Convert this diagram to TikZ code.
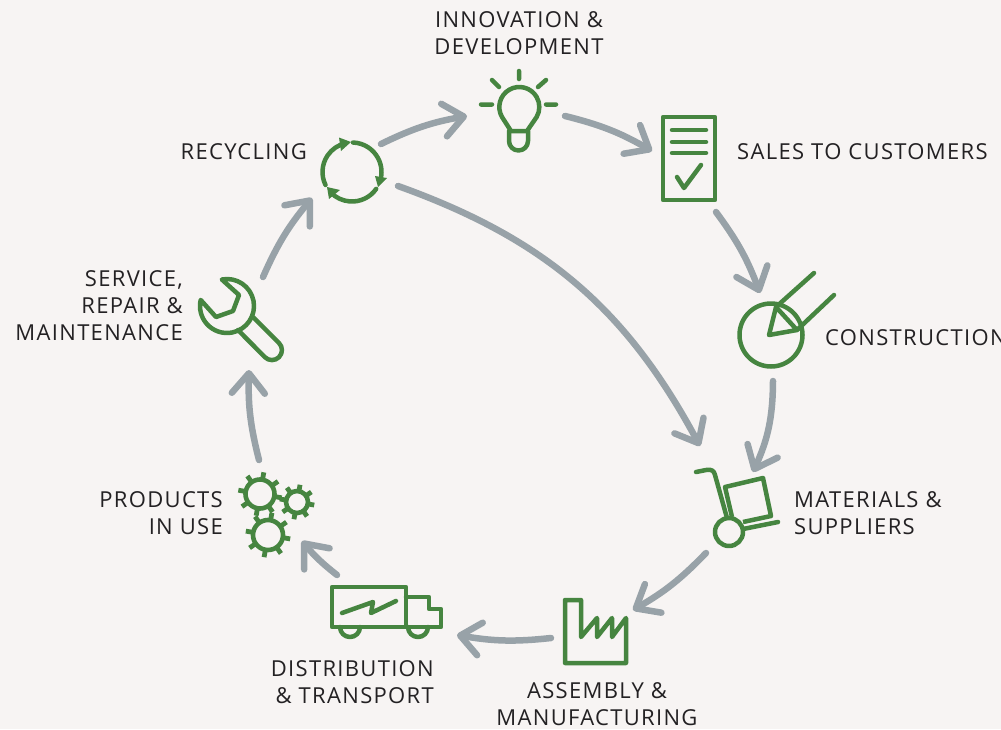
\documentclass[tikz,border=0pt]{standalone}
\usepackage{fontspec}
\setmainfont{Open Sans}[LetterSpace=6]
\usetikzlibrary{arrows.meta}
\definecolor{bgc}{HTML}{F7F4F3}
\definecolor{grn}{HTML}{468540}
\definecolor{gry}{HTML}{98A2A8}
\definecolor{txt}{HTML}{232123}
\tikzset{
 lab/.style={font=\fontsize{22}{27}\selectfont,text=txt,inner sep=0pt,align=#1},
 lab/.default=center,
 icon/.style={draw=grn,line width=4.5pt,line cap=round,line join=round},
 conn/.style={draw=gry,line width=6.5pt,line cap=round,-{Straight Barb[length=20pt,width=33pt,line width=6.5pt,line cap=round,round]}},
}
\newcommand{\gearicon}[4]{% x y r tooth
 \draw[icon,line width=4.6pt] (#1,#2) circle[radius=#3];
 \foreach \a in {0,45,...,315}{\draw[icon,line cap=butt,line width=4.8pt] ([shift={(\a+10:#3)}]#1,#2) -- ([shift={(\a+10:#4)}]#1,#2);}
}
\begin{document}
\begin{tikzpicture}[x=1pt,y=-1pt]
\useasboundingbox (0,0) rectangle (1001,729);
\clip (0,0) rectangle (1001,729);
\fill[bgc] (0,0) rectangle (1001,729);
% connector ends
\coordinate (a1) at (381,144); \coordinate (a2) at (467,116);
\coordinate (b1) at (565,116); \coordinate (b2) at (652,151);
\coordinate (c1) at (716,212); \coordinate (c2) at (760,293);
\coordinate (d1) at (773,381); \coordinate (d2) at (753,472);
\coordinate (e1) at (706,553); \coordinate (e2) at (633,610);
\coordinate (f1) at (551,638); \coordinate (f2) at (457,635);
\coordinate (g1) at (337,575); \coordinate (g2) at (302,541);
\coordinate (h1) at (259,460); \coordinate (h2) at (249,370);
\coordinate (i1) at (263,277); \coordinate (i2) at (312,198);
\coordinate (j1) at (398,186); \coordinate (j2) at (700,446);
\draw[conn] (a1) to[bend left=8] (a2);
\draw[conn] (b1) to[bend left=8] (b2);
\draw[conn] (c1) to[bend left=8] (c2);
\draw[conn] (d1) to[bend left=12] (d2);
\draw[conn] (e1) to[bend left=8] (e2);
\draw[conn] (f1) to[bend left=8] (f2);
\draw[conn] (g1) to[bend left=6] (g2);
\draw[conn] (h1) to[bend left=8] (h2);
\draw[conn] (i1) to[bend left=8] (i2);
\draw[conn] (j1) to[bend left=21] (j2);
% bulb
\draw[icon] (511,131) -- (502,117) arc[start angle=150,end angle=390,radius=20] -- (527,131) -- cycle;
\draw[icon] (509,131) -- (509,141) arc[start angle=180,end angle=0,radius=9.5] -- (528,131);
\draw[icon] (519,71) -- (519,79) (481,104.5) -- (492,104.5) (546,104.5) -- (556,104.5) (492,80) -- (499,87) (538,87) -- (546,80);
% document
\draw[icon] (663,117) rectangle (715,200);
\draw[icon] (672,130) -- (706,130) (672,142) -- (706,142) (672,153) -- (706,153);
\draw[icon] (677,177) -- (684,188) -- (701,165);
% construction
\draw[icon] (771,335) circle[radius=31.5];
\draw[icon] (769,335) -- (776,307) -- (797,330) -- cycle;
\draw[icon] (776,307) -- (814,273) (797,330) -- (834,295);
% cart
\draw[icon] (729,532) circle[radius=14];
\draw[icon] (696,472) -- (706,470) .. controls (712,469) and (714,471) .. (715,475) -- (727,518);
\draw[icon,line cap=butt] (732,517) -- (725,487) -- (763,478) -- (771,516) -- (743,522);
\draw[icon] (743,529) -- (778,522);
% factory
\draw[icon] (565,600) -- (581,600) -- (581,637) -- (597,618) -- (597,637) -- (612,618) -- (612,637) -- (626,618) -- (626,663) -- (565,663) -- cycle;
% truck
\draw[icon] (332,587) rectangle (406,627);
\draw[icon] (406,597) -- (429,597) -- (429,609) -- (441,609) -- (441,627) -- (406,627);
\draw[icon] (340,627) arc[start angle=180,end angle=0,radius=10];
\draw[icon] (408,627) arc[start angle=180,end angle=0,radius=10];
\draw[icon] (342,613) -- (373,602) -- (371,613) -- (396,601);
% gears
\gearicon{260}{494}{14.5}{22}
\gearicon{297}{502}{11}{17.5}
\gearicon{268}{535}{15}{22.5}
% wrench
\draw[icon] ([shift={(-101:27)}]227,306) arc[start angle=-101,end angle=193,radius=27] -- (216,317) -- (233,311) -- (239,295) -- cycle;
\draw[icon] (253,317) -- (279,343) arc[start angle=-45,end angle=135,radius=10] -- (238,330);
% recycling
\draw[icon] ([shift={(154:29.5)}]352,172) arc[start angle=154,end angle=258,radius=29.5];
\draw[icon] ([shift={(-88:29.5)}]352,172) arc[start angle=-88,end angle=18,radius=29.5];
\draw[icon] ([shift={(35:29.5)}]352,172) arc[start angle=35,end angle=135,radius=29.5];
\fill[grn] (351,142) -- (339,137.5) -- (341,151) -- cycle;
\fill[grn] (387,178) -- (375,176) -- (378,187) -- cycle;
\fill[grn] (327,187) -- (340,190) -- (329,199) -- cycle;
% labels
\node[lab=center,anchor=center] (t1) at (519,33.5) {INNOVATION \&\\DEVELOPMENT};
\node[lab=left,anchor=west] (t2) at (737,151.5) {SALES TO CUSTOMERS};
\node[lab=left,anchor=west] (t3) at (825,337.5) {CONSTRUCTION};
\node[lab=left,anchor=west] (t4) at (794,513.5) {MATERIALS \&\\SUPPLIERS};
\node[lab=center,anchor=center] (t5) at (597,704.5) {ASSEMBLY \&\\MANUFACTURING};
\node[lab=right,anchor=east] (t6) at (434,682.5) {DISTRIBUTION\\\& TRANSPORT};
\node[lab=right,anchor=east] (t7) at (223,513.5) {PRODUCTS\\IN USE};
\node[lab=right,anchor=east] (t8) at (183,305.5) {SERVICE,\\REPAIR \&\\MAINTENANCE};
\node[lab=right,anchor=east] (t9) at (307,151.5) {RECYCLING};
\end{tikzpicture}
\end{document}
